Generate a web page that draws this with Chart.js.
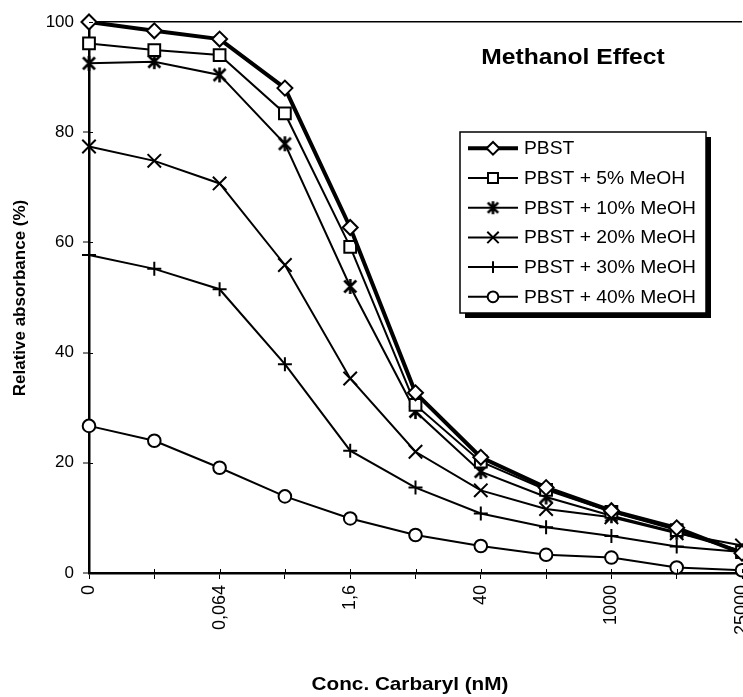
<!DOCTYPE html>
<html>
<head>
<meta charset="utf-8">
<script src="https://cdn.jsdelivr.net/npm/chart.js@4"></script>
<style>
  html, body { margin: 0; padding: 0; background: #fff; overflow: hidden; }
  #wrap { width: 743px; height: 697px; position: relative; }
</style>
</head>
<body>
<div id="wrap"><canvas id="c" width="743" height="697"></canvas></div>
<script>
// ---- data ----
const categories = ['0', '0,0128', '0,064', '0,32', '1,6', '8', '40', '200', '1000', '5000', '25000'];
const tickLabels = ['0', '', '0,064', '', '1,6', '', '40', '', '1000', '', '25000'];
const yTickValues = [0, 20, 40, 60, 80, 100];
const seriesNames = ['PBST', 'PBST + 5% MeOH', 'PBST + 10% MeOH', 'PBST + 20% MeOH', 'PBST + 30% MeOH', 'PBST + 40% MeOH'];
const pbst   = [100, 98.4, 96.9, 88.0, 62.7, 32.7, 21.0, 15.5, 11.3, 8.2, 3.6];
const meoh5  = [96.1, 94.9, 94.0, 83.4, 59.2, 30.5, 20.2, 15.1, 11.1, 7.8, 3.8];
const meoh10 = [92.5, 92.8, 90.4, 77.9, 52.0, 29.3, 18.4, 13.8, 10.4, 7.4, 4.0];
const meoh20 = [77.4, 74.8, 70.7, 55.9, 35.3, 22.0, 15.0, 11.6, 10.1, 7.2, 5.0];
const meoh30 = [57.7, 55.2, 51.5, 37.9, 22.2, 15.5, 10.8, 8.3, 6.7, 4.8, 3.8];
const meoh40 = [26.7, 24.0, 19.1, 13.9, 9.9, 6.9, 4.9, 3.3, 2.8, 1.0, 0.5];
const chartTitle = 'Methanol Effect';
const xTitle = 'Conc. Carbaryl (nM)';
const yTitle = 'Relative absorbance (%)';

// ---- styles ----
const FONT = "'Liberation Sans', Arial, sans-serif";

function makeAsterisk(size, lw) {
  const c = document.createElement('canvas');
  c.width = size; c.height = size;
  const g = c.getContext('2d');
  const m = size / 2, r = size / 2 - 1;
  g.strokeStyle = '#000';
  g.lineWidth = lw;
  g.lineCap = 'butt';
  g.beginPath();
  g.moveTo(m - r * 0.8, m - r * 0.8); g.lineTo(m + r * 0.8, m + r * 0.8);
  g.moveTo(m + r * 0.8, m - r * 0.8); g.lineTo(m - r * 0.8, m + r * 0.8);
  g.moveTo(m, m - r); g.lineTo(m, m + r);
  g.stroke();
  return c;
}
const asterisk = makeAsterisk(17, 2.6);
const asteriskSmall = makeAsterisk(15, 2.6);

const styles = [
  { pointStyle: 'rectRot', radius: 7.5, lw: 4 },
  { pointStyle: 'rect', radius: 8.3, lw: 2 },
  { pointStyle: asterisk, radius: 7.5, lw: 2 },
  { pointStyle: 'crossRot', radius: 9.5, lw: 2 },
  { pointStyle: 'cross', radius: 7, lw: 2 },
  { pointStyle: 'circle', radius: 6.3, lw: 2 }
];
const allSeries = [pbst, meoh5, meoh10, meoh20, meoh30, meoh40];

const datasets = allSeries.map((d, i) => ({
  label: seriesNames[i],
  data: d,
  borderColor: '#000',
  backgroundColor: '#fff',
  borderWidth: styles[i].lw,
  pointStyle: styles[i].pointStyle,
  pointRadius: styles[i].radius,
  pointBorderWidth: 2,
  pointBackgroundColor: '#fff',
  pointBorderColor: '#000',
  tension: 0,
  clip: false
}));

function stretchedText(ctx, text, x, y, sx) {
  ctx.save();
  ctx.translate(x, y);
  ctx.scale(sx, 1);
  ctx.fillText(text, 0, 0);
  ctx.restore();
}

const extrasPlugin = {
  id: 'extras',
  afterDatasetsDraw(chart) {
    const ctx = chart.ctx;
    const xs = chart.scales.x, ys = chart.scales.y;
    ctx.save();
    ctx.strokeStyle = '#000';
    ctx.lineWidth = 1;
    // inner tick marks
    for (let i = 0; i < xs.ticks.length; i++) {
      const px = Math.round(xs.getPixelForTick(i)) + 0.5;
      ctx.beginPath(); ctx.moveTo(px, xs.top); ctx.lineTo(px, xs.top - 4); ctx.stroke();
    }
    for (let i = 0; i < ys.ticks.length; i++) {
      const py = Math.round(ys.getPixelForTick(i)) + 0.5;
      ctx.beginPath(); ctx.moveTo(ys.right, py); ctx.lineTo(ys.right + 4, py); ctx.stroke();
    }
    // title
    ctx.fillStyle = '#000';
    ctx.font = 'bold 22px ' + FONT;
    ctx.textAlign = 'center';
    ctx.textBaseline = 'alphabetic';
    stretchedText(ctx, chartTitle, 573, 64, 1.12);
    // x title
    ctx.font = 'bold 19px ' + FONT;
    stretchedText(ctx, xTitle, 410, 690, 1.09);
    // y title
    ctx.save();
    ctx.translate(20, 298);
    ctx.rotate(-Math.PI / 2);
    ctx.font = 'bold 17px ' + FONT;
    ctx.textBaseline = 'middle';
    ctx.fillText(yTitle, 0, 0);
    ctx.restore();

    // legend box with shadow
    const bx = 460, by = 132, bw = 246, bh = 181, sh = 5;
    ctx.fillStyle = '#000';
    ctx.fillRect(bx + sh, by + sh, bw, bh);
    ctx.fillStyle = '#fff';
    ctx.fillRect(bx, by, bw, bh);
    ctx.lineWidth = 1.5;
    ctx.strokeStyle = '#000';
    ctx.strokeRect(bx, by, bw, bh);
    const rowY0 = 148.3, rowStep = 29.7;
    chart.data.datasets.forEach((ds, i) => {
      const y = rowY0 + i * rowStep;
      ctx.strokeStyle = '#000';
      ctx.lineWidth = ds.borderWidth;
      ctx.beginPath(); ctx.moveTo(468, y); ctx.lineTo(518, y); ctx.stroke();
      ctx.fillStyle = '#fff';
      ctx.strokeStyle = '#000';
      ctx.lineWidth = 2;
      const ps = (ds.pointStyle === asterisk) ? asteriskSmall : ds.pointStyle;
      Chart.helpers.drawPoint(ctx, {
        pointStyle: ps, radius: ds.pointRadius * 0.85, rotation: 0, borderWidth: 2
      }, 493, y);
      ctx.fillStyle = '#000';
      ctx.font = '18px ' + FONT;
      ctx.textAlign = 'left';
      ctx.textBaseline = 'middle';
      stretchedText(ctx, ds.label, 524, y + 1, 1.07);
    });
    ctx.restore();
  }
};

new Chart(document.getElementById('c'), {
  type: 'line',
  data: { labels: categories, datasets: datasets },
  options: {
    responsive: false,
    animation: false,
    devicePixelRatio: 1,
    layout: { autoPadding: false, padding: { top: 22, right: 1, bottom: 0, left: 0 } },
    plugins: {
      legend: { display: false },
      tooltip: { enabled: false },
      title: { display: false }
    },
    scales: {
      x: {
        type: 'category',
        offset: false,
        grid: { drawOnChartArea: false, drawTicks: true, tickLength: 6, tickColor: '#000', tickWidth: 1 },
        border: { display: true, color: '#000', width: 2.5 },
        ticks: {
          autoSkip: false,
          minRotation: 90,
          maxRotation: 90,
          padding: 6,
          color: '#000',
          font: { family: FONT, size: 18 },
          callback: (v, i) => tickLabels[i]
        },
        afterFit: s => { s.height = 124; s.paddingLeft = 0; s.paddingRight = 0; }
      },
      y: {
        min: 0,
        max: 100,
        afterBuildTicks: s => { s.ticks = yTickValues.map(v => ({ value: v })); },
        grid: {
          drawOnChartArea: true,
          color: c => (c.tick && c.tick.value === 100 ? '#000' : 'rgba(0,0,0,0)'),
          lineWidth: c => (c.tick && c.tick.value === 100 ? 1.5 : 0),
          tickColor: '#000', tickLength: 6, tickWidth: 1
        },
        border: { display: true, color: '#000', width: 2.5 },
        ticks: { padding: 9, color: '#000', font: { family: FONT, size: 17 } },
        afterFit: s => { s.width = 89; s.paddingTop = 0; s.paddingBottom = 0; }
      }
    }
  },
  plugins: [extrasPlugin]
});
</script>
</body>
</html>
